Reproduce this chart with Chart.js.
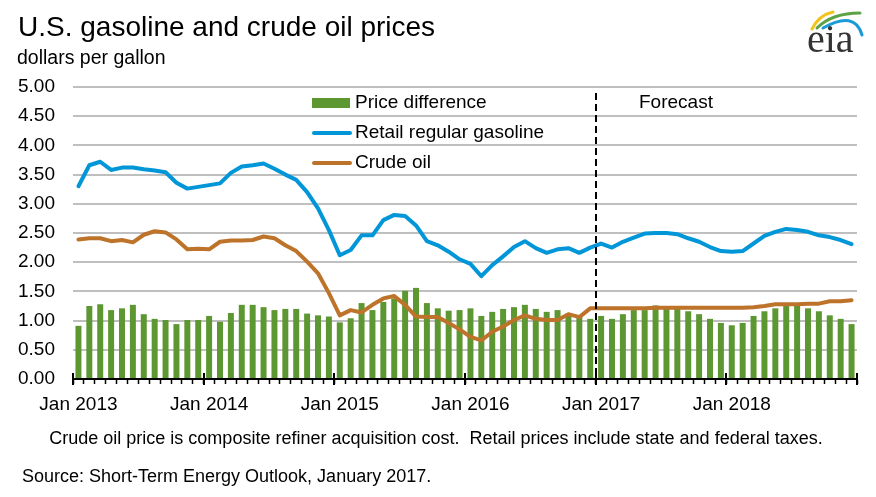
<!DOCTYPE html>
<html>
<head>
<meta charset="utf-8">
<script src="https://cdn.jsdelivr.net/npm/chart.js@4.4.1/dist/chart.umd.min.js"></script>
<style>
  html, body { margin: 0; padding: 0; background: #fff; }
  #wrap { width: 876px; height: 497px; position: relative; }
</style>
</head>
<body>
<div id="wrap"><canvas id="priceChart"></canvas></div>
<script>
  const monthNames = ["Jan", "Feb", "Mar", "Apr", "May", "Jun", "Jul", "Aug", "Sep", "Oct", "Nov", "Dec"];
  const years = [2013, 2014, 2015, 2016, 2017, 2018];
  const monthLabels = years.flatMap((y) => monthNames.map((m) => `${m} ${y}`));
  const forecastStart = "Jan 2017";
  const yTicks = [0, 0.5, 1, 1.5, 2, 2.5, 3, 3.5, 4, 4.5, 5];

  // dollars per gallon, Jan 2013 .. Dec 2018
  const retailGasoline = [
    3.30, 3.66, 3.72, 3.58, 3.62, 3.62, 3.59, 3.57, 3.54, 3.36, 3.26, 3.29,
    3.32, 3.35, 3.53, 3.64, 3.66, 3.69, 3.60, 3.50, 3.41, 3.20, 2.92, 2.55,
    2.12, 2.21, 2.46, 2.46, 2.72, 2.81, 2.79, 2.63, 2.36, 2.29, 2.18, 2.05,
    1.97, 1.76, 1.95, 2.10, 2.26, 2.36, 2.24, 2.16, 2.22, 2.24, 2.16, 2.25,
    2.32, 2.25, 2.35, 2.42, 2.49, 2.50, 2.50, 2.48, 2.41, 2.35, 2.26, 2.19,
    2.18, 2.19, 2.32, 2.45, 2.52, 2.57, 2.55, 2.52, 2.46, 2.43, 2.38, 2.31,
  ];
  const crudeOil = [
    2.39, 2.41, 2.41, 2.36, 2.38, 2.34, 2.47, 2.53, 2.51, 2.39, 2.22, 2.23,
    2.22, 2.35, 2.37, 2.37, 2.38, 2.44, 2.41, 2.29, 2.19, 2.01, 1.81, 1.47,
    1.09, 1.18, 1.14, 1.27, 1.38, 1.42, 1.27, 1.07, 1.06, 1.06, 0.96, 0.85,
    0.72, 0.66, 0.81, 0.90, 1.01, 1.09, 1.03, 1.01, 1.01, 1.11, 1.06, 1.21,
    1.21, 1.21, 1.21, 1.21, 1.21, 1.22, 1.22, 1.22, 1.22, 1.22, 1.22, 1.22,
    1.22, 1.22, 1.23, 1.25, 1.28, 1.28, 1.28, 1.29, 1.29, 1.33, 1.33, 1.35,
  ];
  const priceDifference = [
    0.91, 1.25, 1.28, 1.18, 1.21, 1.27, 1.11, 1.03, 1.01, 0.94, 1.01, 1.01,
    1.08, 0.98, 1.13, 1.27, 1.27, 1.23, 1.18, 1.20, 1.20, 1.12, 1.09, 1.07,
    0.97, 1.04, 1.30, 1.18, 1.32, 1.38, 1.51, 1.56, 1.30, 1.21, 1.17, 1.18,
    1.21, 1.08, 1.15, 1.20, 1.23, 1.27, 1.20, 1.15, 1.18, 1.12, 1.09, 1.03,
    1.08, 1.03, 1.11, 1.18, 1.18, 1.26, 1.21, 1.21, 1.16, 1.11, 1.03, 0.96,
    0.92, 0.96, 1.08, 1.16, 1.21, 1.25, 1.25, 1.21, 1.16, 1.09, 1.03, 0.94,
  ];

  const FONT = "'Liberation Sans', Arial, sans-serif";
  const colors = {
    bar: "#5d9732",
    gas: "#0096d7",
    crude: "#bd732a",
    grid: "#bfbfbf",
    text: "#000000",
  };

  Chart.defaults.font.family = FONT;
  Chart.defaults.color = colors.text;

  // text, legend, forecast marker and year ticks drawn on top of the canvas
  const decorPlugin = {
    id: "decor",
    beforeDraw(chart) {
      const c = chart.ctx;
      c.save();
      c.fillStyle = "#ffffff";
      c.fillRect(0, 0, chart.width, chart.height);
      c.restore();
    },
    afterDraw(chart) {
      const c = chart.ctx;
      const x = chart.scales.x;
      const area = chart.chartArea;
      const half = (x.getPixelForValue(1) - x.getPixelForValue(0)) / 2;
      c.save();

      // year ticks, crossing the axis
      c.strokeStyle = "#000";
      c.lineWidth = 2;
      for (let k = 0; k <= years.length; k++) {
        const px = Math.round(x.getPixelForValue(k * 12) - half);
        c.beginPath();
        c.moveTo(px, area.bottom - 6);
        c.lineTo(px, area.bottom + 6);
        c.stroke();
      }

      // forecast divider
      const fx = Math.round(x.getPixelForValue(monthLabels.indexOf(forecastStart)) - half);
      c.setLineDash([7, 4]);
      c.lineWidth = 2;
      c.beginPath();
      c.moveTo(fx, area.top + 6);
      c.lineTo(fx, area.bottom);
      c.stroke();
      c.setLineDash([]);

      c.fillStyle = colors.text;
      c.textBaseline = "middle";
      c.font = `19px ${FONT}`;
      c.fillText("Forecast", 639, 103);

      // legend
      const ds = chart.data.datasets;
      ds.forEach((d, row) => {
        const cy = 103 + row * 30;
        if (d.type === "bar") {
          c.fillStyle = d.backgroundColor;
          c.fillRect(312, cy - 5, 38, 10);
        } else {
          c.strokeStyle = d.borderColor;
          c.lineWidth = 4;
          c.lineCap = "round";
          c.beginPath();
          c.moveTo(314, cy);
          c.lineTo(350, cy);
          c.stroke();
        }
        c.fillStyle = colors.text;
        c.font = `19px ${FONT}`;
        c.fillText(d.label, 355, cy);
      });

      // titles and notes
      c.textBaseline = "alphabetic";
      c.textAlign = "left";
      c.font = `28px ${FONT}`;
      c.fillText("U.S. gasoline and crude oil prices", 18, 36);
      c.font = `19.5px ${FONT}`;
      c.fillText("dollars per gallon", 17, 64);
      c.font = `18px ${FONT}`;
      c.textAlign = "center";
      c.fillText("Crude oil price is composite refiner acquisition cost.  Retail prices include state and federal taxes.", 436, 444);
      c.textAlign = "left";
      c.fillText("Source: Short-Term Energy Outlook, January 2017.", 22, 482);

      // eia logo
      c.lineCap = "round";
      c.lineWidth = 3;
      c.strokeStyle = "#f2c31b";
      c.beginPath();
      c.moveTo(812, 29);
      c.quadraticCurveTo(819, 15, 833, 12);
      c.stroke();
      c.strokeStyle = "#5da345";
      c.beginPath();
      c.moveTo(817, 28);
      c.quadraticCurveTo(832, 13, 860, 13);
      c.stroke();
      c.strokeStyle = "#1a9ad6";
      c.beginPath();
      c.moveTo(823, 28);
      c.quadraticCurveTo(855, 10, 862, 35);
      c.stroke();
      c.fillStyle = "#333333";
      c.font = `40px 'Liberation Serif', 'DejaVu Serif', serif`;
      c.fillText("eia", 807, 52);

      c.restore();
    },
  };

  new Chart(document.getElementById("priceChart"), {
    type: "bar",
    data: {
      labels: monthLabels,
      datasets: [
        {
          type: "bar",
          label: "Price difference",
          data: priceDifference,
          backgroundColor: colors.bar,
          barPercentage: 0.55,
          categoryPercentage: 1,
          order: 3,
        },
        {
          type: "line",
          label: "Retail regular gasoline",
          data: retailGasoline,
          borderColor: colors.gas,
          backgroundColor: colors.gas,
          borderWidth: 4,
          pointRadius: 0,
          tension: 0,
          borderJoinStyle: "round",
          borderCapStyle: "round",
          order: 1,
        },
        {
          type: "line",
          label: "Crude oil",
          data: crudeOil,
          borderColor: colors.crude,
          backgroundColor: colors.crude,
          borderWidth: 4,
          pointRadius: 0,
          tension: 0,
          borderJoinStyle: "round",
          borderCapStyle: "round",
          order: 2,
        },
      ],
    },
    options: {
      responsive: true,
      maintainAspectRatio: false,
      animation: false,
      layout: { padding: { top: 87, right: 19, left: 0, bottom: 0 } },
      plugins: {
        legend: { display: false },
        tooltip: { enabled: false },
      },
      scales: {
        x: {
          offset: true,
          afterFit: (scale) => { scale.height = 118; },
          grid: {
            offset: true,
            drawOnChartArea: false,
            drawTicks: true,
            tickLength: 5,
            tickColor: "#000",
            tickWidth: 1.5,
          },
          border: { display: true, color: "#000", width: 2 },
          ticks: {
            autoSkip: false,
            maxRotation: 0,
            minRotation: 0,
            padding: 9,
            font: { size: 19 },
            color: colors.text,
            callback: (val, i) => (i % 12 === 0 ? monthLabels[i] : ""),
          },
        },
        y: {
          min: yTicks[0],
          max: yTicks[yTicks.length - 1],
          afterFit: (scale) => { scale.width = 73; },
          afterBuildTicks: (scale) => { scale.ticks = yTicks.map((v) => ({ value: v })); },
          grid: { color: colors.grid, lineWidth: 2, drawTicks: false },
          border: { display: false },
          ticks: {
            padding: 18,
            font: { size: 19 },
            color: colors.text,
            callback: (v) => Number(v).toFixed(2),
          },
        },
      },
    },
    plugins: [decorPlugin],
  });
</script>
</body>
</html>
